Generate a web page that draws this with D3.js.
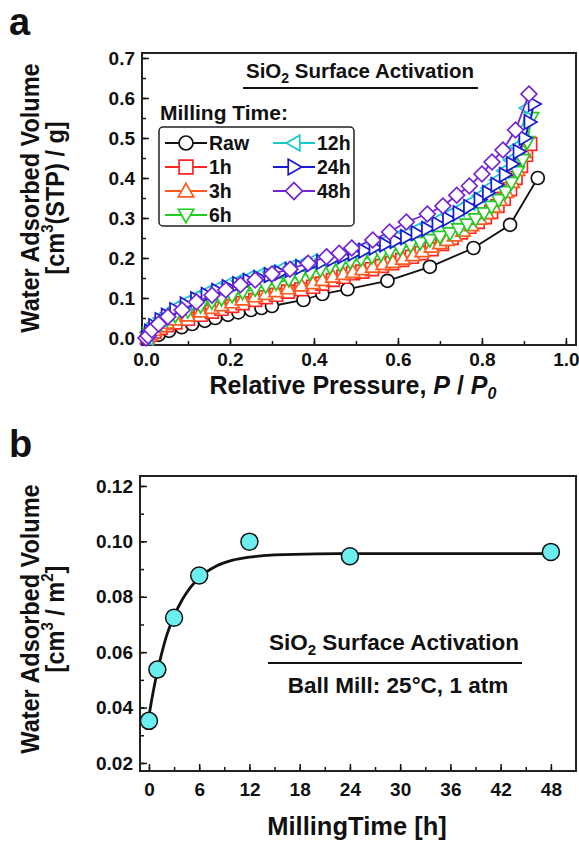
<!DOCTYPE html>
<html>
<head>
<meta charset="utf-8">
<script src="https://cdn.jsdelivr.net/npm/d3@7"></script>
<style>
  body { margin: 0; background: #fff; }
  svg text { font-family: "Liberation Sans", Arial, sans-serif; font-weight: bold; fill: #111; }
</style>
</head>
<body>
<div id="chart"></div>
<script>
// ---- panel a: isotherms (relative pressure vs adsorbed volume) ----
const seriesNames = ['Raw', '1h', '3h', '6h', '12h', '24h', '48h'];
const seriesColors = ['#111111', '#ff2424', '#ff5a1e', '#22cc22', '#16c8c8', '#1a1ad2', '#7424d4'];
const seriesShapes = ['circle', 'square', 'up', 'down', 'left', 'right', 'diamond'];

const rawP = [0.005, 0.03, 0.055, 0.085, 0.11, 0.14, 0.165, 0.195, 0.22, 0.25, 0.275, 0.3, 0.375, 0.42, 0.48, 0.575, 0.676, 0.78, 0.867, 0.933];
const rawV = [0.0, 0.008, 0.018, 0.027, 0.035, 0.043, 0.05, 0.058, 0.064, 0.07, 0.075, 0.08, 0.095, 0.11, 0.122, 0.143, 0.178, 0.225, 0.283, 0.40];

const h1P = [0.003, 0.01, 0.02, 0.035, 0.05, 0.07, 0.1, 0.13, 0.157, 0.18, 0.205, 0.23, 0.26, 0.285, 0.31, 0.338, 0.37, 0.398, 0.42, 0.445, 0.47, 0.493, 0.515, 0.538, 0.562, 0.586, 0.61, 0.633, 0.656, 0.68, 0.705, 0.728, 0.75, 0.77, 0.79, 0.807, 0.822, 0.837, 0.852, 0.867, 0.88, 0.893, 0.905, 0.915];
const h1V = [0.0, 0.008, 0.016, 0.025, 0.032, 0.039, 0.048, 0.058, 0.066, 0.073, 0.08, 0.087, 0.095, 0.102, 0.108, 0.116, 0.122, 0.128, 0.136, 0.145, 0.153, 0.162, 0.166, 0.172, 0.18, 0.187, 0.195, 0.203, 0.212, 0.222, 0.235, 0.25, 0.264, 0.278, 0.29, 0.302, 0.315, 0.33, 0.348, 0.372, 0.4, 0.43, 0.458, 0.485];

const h3P = [0.003, 0.01, 0.02, 0.035, 0.05, 0.07, 0.1, 0.13, 0.157, 0.18, 0.205, 0.23, 0.26, 0.285, 0.31, 0.338, 0.37, 0.398, 0.42, 0.445, 0.47, 0.493, 0.515, 0.54, 0.565, 0.588, 0.612, 0.636, 0.658, 0.68, 0.7, 0.717, 0.735, 0.755, 0.775, 0.795, 0.812, 0.828, 0.843, 0.858, 0.872, 0.885, 0.9];
const h3V = [0.0, 0.01, 0.02, 0.03, 0.038, 0.046, 0.056, 0.066, 0.075, 0.082, 0.089, 0.096, 0.104, 0.11, 0.117, 0.124, 0.131, 0.137, 0.145, 0.153, 0.16, 0.165, 0.172, 0.178, 0.185, 0.19, 0.198, 0.207, 0.217, 0.228, 0.237, 0.245, 0.256, 0.268, 0.282, 0.298, 0.312, 0.328, 0.345, 0.365, 0.39, 0.42, 0.465];

const h6P = [0.003, 0.01, 0.02, 0.035, 0.05, 0.07, 0.1, 0.13, 0.157, 0.18, 0.205, 0.23, 0.26, 0.285, 0.31, 0.34, 0.365, 0.39, 0.415, 0.438, 0.462, 0.486, 0.512, 0.538, 0.56, 0.58, 0.605, 0.63, 0.653, 0.676, 0.7, 0.724, 0.745, 0.765, 0.785, 0.805, 0.823, 0.84, 0.856, 0.87, 0.884, 0.897, 0.908, 0.918];
const h6V = [0.0, 0.012, 0.024, 0.036, 0.046, 0.056, 0.068, 0.08, 0.09, 0.098, 0.106, 0.114, 0.122, 0.13, 0.137, 0.146, 0.154, 0.162, 0.17, 0.178, 0.184, 0.19, 0.197, 0.203, 0.209, 0.215, 0.223, 0.232, 0.238, 0.245, 0.253, 0.262, 0.272, 0.284, 0.297, 0.312, 0.328, 0.345, 0.365, 0.388, 0.415, 0.445, 0.49, 0.55];

const h12P = [0.003, 0.01, 0.02, 0.035, 0.05, 0.07, 0.095, 0.12, 0.145, 0.17, 0.195, 0.22, 0.245, 0.27, 0.295, 0.32, 0.345, 0.37, 0.395, 0.42, 0.445, 0.47, 0.495, 0.52, 0.545, 0.57, 0.595, 0.62, 0.645, 0.67, 0.695, 0.72, 0.745, 0.77, 0.795, 0.815, 0.835, 0.852, 0.868, 0.882, 0.895, 0.906];
const h12V = [0.0, 0.02, 0.035, 0.05, 0.062, 0.076, 0.09, 0.103, 0.115, 0.125, 0.135, 0.143, 0.151, 0.158, 0.165, 0.172, 0.178, 0.185, 0.192, 0.198, 0.205, 0.212, 0.219, 0.226, 0.234, 0.243, 0.252, 0.262, 0.272, 0.283, 0.295, 0.308, 0.322, 0.338, 0.356, 0.375, 0.395, 0.418, 0.445, 0.478, 0.52, 0.575];

const h24P = [0.003, 0.01, 0.02, 0.035, 0.05, 0.07, 0.095, 0.12, 0.145, 0.17, 0.195, 0.22, 0.245, 0.27, 0.295, 0.32, 0.345, 0.37, 0.395, 0.42, 0.445, 0.47, 0.495, 0.52, 0.545, 0.57, 0.595, 0.62, 0.645, 0.67, 0.695, 0.72, 0.745, 0.77, 0.795, 0.815, 0.835, 0.855, 0.872, 0.888, 0.902, 0.914, 0.924];
const h24V = [0.0, 0.016, 0.03, 0.045, 0.056, 0.07, 0.084, 0.097, 0.108, 0.118, 0.127, 0.135, 0.143, 0.15, 0.157, 0.163, 0.17, 0.177, 0.184, 0.19, 0.197, 0.204, 0.211, 0.218, 0.226, 0.234, 0.243, 0.252, 0.262, 0.273, 0.285, 0.298, 0.312, 0.328, 0.346, 0.363, 0.383, 0.408, 0.435, 0.466, 0.5, 0.54, 0.585];

const h48P = [0.0, 0.005, 0.014, 0.03, 0.052, 0.086, 0.12, 0.157, 0.19, 0.225, 0.26, 0.3, 0.343, 0.386, 0.43, 0.46, 0.49, 0.54, 0.58, 0.62, 0.67, 0.707, 0.74, 0.77, 0.8, 0.824, 0.85, 0.88, 0.912];
const h48V = [0.0, 0.005, 0.02, 0.035, 0.053, 0.07, 0.09, 0.107, 0.12, 0.133, 0.145, 0.16, 0.172, 0.187, 0.203, 0.212, 0.225, 0.245, 0.265, 0.29, 0.31, 0.33, 0.357, 0.38, 0.41, 0.44, 0.47, 0.52, 0.61];

const seriesP = [rawP, h1P, h3P, h6P, h12P, h24P, h48P];
const seriesV = [rawV, h1V, h3V, h6V, h12V, h24V, h48V];

// ---- panel b: adsorbed volume per area vs milling time ----
const millHours = [0, 1, 3, 6, 12, 24, 48];
const volPerArea = [0.0352, 0.0537, 0.0724, 0.0877, 0.0999, 0.0946, 0.0962];
// fitted curve
const fitHours = [0, 0.5, 1, 1.5, 2, 3, 4, 5, 6, 8, 10, 12, 15, 20, 30, 48];
const fitVol = [0.037, 0.0456, 0.053, 0.0593, 0.0649, 0.073, 0.0791, 0.0836, 0.0869, 0.091, 0.0932, 0.0943, 0.0951, 0.0955, 0.0956, 0.0956];

const width = 579, height = 841;
const svg = d3.select('#chart').append('svg')
  .attr('width', width).attr('height', height);

function marker(g, shape, color, s) {
  if (shape === 'circle') {
    g.append('circle').attr('r', s * 0.5).attr('fill', '#fff').attr('stroke', color).attr('stroke-width', 1.7);
    return;
  }
  let pts;
  const h = s * 0.55;
  if (shape === 'square') pts = [[-h * 0.9, -h * 0.9], [h * 0.9, -h * 0.9], [h * 0.9, h * 0.9], [-h * 0.9, h * 0.9]];
  if (shape === 'up') pts = [[0, -h], [h, h * 0.75], [-h, h * 0.75]];
  if (shape === 'down') pts = [[0, h], [h, -h * 0.75], [-h, -h * 0.75]];
  if (shape === 'left') pts = [[-h, 0], [h * 0.75, -h], [h * 0.75, h]];
  if (shape === 'right') pts = [[h, 0], [-h * 0.75, -h], [-h * 0.75, h]];
  if (shape === 'diamond') pts = [[0, -h * 1.1], [h * 1.1, 0], [0, h * 1.1], [-h * 1.1, 0]];
  g.append('path').attr('d', 'M' + pts.map(p => p.join(',')).join('L') + 'Z')
    .attr('fill', '#fff').attr('stroke', color).attr('stroke-width', 1.7);
}

// rotated two-line y title, squeezed a little along its length
function yTitle(g, cy, line2html) {
  g.append('text').attr('transform', `translate(39,${cy}) rotate(-90) scale(0.94,1)`).attr('text-anchor', 'middle')
    .attr('font-size', 25).text('Water Adsorbed Volume');
  g.append('text').attr('transform', `translate(64,${cy}) rotate(-90) scale(0.94,1)`).attr('text-anchor', 'middle')
    .attr('font-size', 25).html(line2html);
}

// ===== panel a =====
const xa = d3.scaleLinear().domain([-0.0095, 1.024]).range([142, 576]);
const ya = d3.scaleLinear().domain([-0.0175, 0.7125]).range([345, 53]);

const ga = svg.append('g');
ga.append('g').attr('transform', 'translate(0,345)')
  .call(d3.axisBottom(xa).tickValues(d3.range(0, 1.01, 0.1)).tickSize(-4).tickFormat(''));
ga.append('g').attr('transform', 'translate(0,345)')
  .call(d3.axisBottom(xa).tickValues([0, 0.2, 0.4, 0.6, 0.8, 1.0]).tickSize(-7).tickPadding(8).tickFormat(d3.format('.1f')));
ga.append('g').attr('transform', 'translate(142,0)')
  .call(d3.axisLeft(ya).tickValues(d3.range(0, 0.701, 0.05)).tickSize(-4).tickFormat(''));
ga.append('g').attr('transform', 'translate(142,0)')
  .call(d3.axisLeft(ya).tickValues(d3.range(0, 0.701, 0.1)).tickSize(-7).tickPadding(7).tickFormat(d3.format('.1f')));
ga.selectAll('.domain').remove();
ga.selectAll('.tick line').attr('stroke', '#111').attr('stroke-width', 1.5);
ga.selectAll('.tick text').attr('font-size', 19).attr('fill', '#111');
ga.append('rect').attr('x', 142).attr('y', 53).attr('width', 434).attr('height', 292)
  .attr('fill', 'none').attr('stroke', '#222').attr('stroke-width', 2);

const lineA = d3.line().x(d => xa(d[0])).y(d => ya(d[1]));
seriesNames.forEach((name, i) => {
  const pts = seriesP[i].map((p, j) => [p, seriesV[i][j]]);
  ga.append('path').attr('d', lineA(pts)).attr('fill', 'none')
    .attr('stroke', seriesColors[i]).attr('stroke-width', 1.8);
  pts.forEach(d => {
    const m = ga.append('g').attr('transform', `translate(${xa(d[0])},${ya(d[1])})`);
    marker(m, seriesShapes[i], seriesColors[i], 13);
  });
});

// title + legend
ga.append('text').attr('x', 360).attr('y', 78).attr('text-anchor', 'middle').attr('font-size', 20.5)
  .html('SiO<tspan font-size="14" dy="5">2</tspan><tspan dy="-5"> Surface Activation</tspan>');
ga.append('line').attr('x1', 243).attr('x2', 478).attr('y1', 88).attr('y2', 88).attr('stroke', '#111').attr('stroke-width', 2);
ga.append('text').attr('x', 160).attr('y', 120).attr('font-size', 21).text('Milling Time:');
ga.append('rect').attr('x', 159).attr('y', 127).attr('width', 195).attr('height', 99).attr('rx', 4)
  .attr('fill', '#fff').attr('stroke', '#222').attr('stroke-width', 1.5);
seriesNames.forEach((name, i) => {
  const col = i < 4 ? 0 : 1;
  const row = i < 4 ? i : i - 4;
  const x0 = col === 0 ? 165 : 273;
  const y0 = 143 + row * 24;
  const lg = ga.append('g');
  lg.append('line').attr('x1', x0).attr('x2', x0 + 42).attr('y1', y0).attr('y2', y0)
    .attr('stroke', seriesColors[i]).attr('stroke-width', 1.8);
  marker(lg.append('g').attr('transform', `translate(${x0 + 21},${y0})`), seriesShapes[i], seriesColors[i], 14);
  lg.append('text').attr('x', x0 + 44).attr('y', y0 + 7).attr('font-size', 19.5).text(name);
});

// axis titles a
yTitle(ga, 198, '[cm<tspan font-size="16" dy="-11">3</tspan><tspan dy="11">(STP) / g]</tspan>');
ga.append('text').attr('x', 353).attr('y', 394).attr('text-anchor', 'middle').attr('font-size', 25)
  .html('Relative Pressure, <tspan font-style="italic">P</tspan> / <tspan font-style="italic">P</tspan><tspan font-style="italic" font-size="16" dy="5">0</tspan>');
svg.append('text').attr('x', 9).attr('y', 35).attr('font-size', 38).text('a');

// ===== panel b =====
const xb = d3.scaleLinear().domain([-1.07, 51]).range([140, 576]);
const yb = d3.scaleLinear().domain([0.0171, 0.1236]).range([771, 476]);

const gb = svg.append('g');
gb.append('g').attr('transform', 'translate(0,771)')
  .call(d3.axisBottom(xb).tickValues(d3.range(0, 49, 3)).tickSize(-4).tickFormat(''));
gb.append('g').attr('transform', 'translate(0,771)')
  .call(d3.axisBottom(xb).tickValues(d3.range(0, 49, 6)).tickSize(-7).tickPadding(12).tickFormat(d3.format('d')));
gb.append('g').attr('transform', 'translate(140,0)')
  .call(d3.axisLeft(yb).tickValues(d3.range(0.02, 0.1201, 0.01)).tickSize(-4).tickFormat(''));
gb.append('g').attr('transform', 'translate(140,0)')
  .call(d3.axisLeft(yb).tickValues([0.02, 0.04, 0.06, 0.08, 0.10, 0.12]).tickSize(-7).tickPadding(7).tickFormat(d3.format('.2f')));
gb.selectAll('.domain').remove();
gb.selectAll('.tick line').attr('stroke', '#111').attr('stroke-width', 1.5);
gb.selectAll('.tick text').attr('font-size', 19).attr('fill', '#111');
gb.append('rect').attr('x', 140).attr('y', 476).attr('width', 436).attr('height', 295)
  .attr('fill', 'none').attr('stroke', '#222').attr('stroke-width', 2);

const fitLine = d3.line().curve(d3.curveMonotoneX).x(d => xb(d[0])).y(d => yb(d[1]));
gb.append('path').attr('d', fitLine(fitHours.map((t, i) => [t, fitVol[i]])))
  .attr('fill', 'none').attr('stroke', '#111').attr('stroke-width', 2.8);
gb.selectAll('circle.pt').data(millHours).enter().append('circle').attr('class', 'pt')
  .attr('cx', d => xb(d)).attr('cy', (d, i) => yb(volPerArea[i])).attr('r', 8.5)
  .attr('fill', '#6aeef0').attr('stroke', '#111').attr('stroke-width', 1.5);

gb.append('text').attr('x', 394).attr('y', 650).attr('text-anchor', 'middle').attr('font-size', 22.5)
  .html('SiO<tspan font-size="15" dy="5">2</tspan><tspan dy="-5"> Surface Activation</tspan>');
gb.append('line').attr('x1', 268).attr('x2', 522).attr('y1', 663).attr('y2', 663).attr('stroke', '#111').attr('stroke-width', 2);
gb.append('text').attr('x', 398).attr('y', 693).attr('text-anchor', 'middle').attr('font-size', 22.5)
  .text('Ball Mill: 25°C, 1 atm');

yTitle(gb, 619, '[cm<tspan font-size="16" dy="-11">3</tspan><tspan dy="11"> / m</tspan><tspan font-size="16" dy="-11">2</tspan><tspan dy="11">]</tspan>');
gb.append('text').attr('x', 357).attr('y', 835).attr('text-anchor', 'middle').attr('font-size', 25.5)
  .text('MillingTime [h]');
svg.append('text').attr('x', 9).attr('y', 457).attr('font-size', 38).text('b');
</script>
</body>
</html>
